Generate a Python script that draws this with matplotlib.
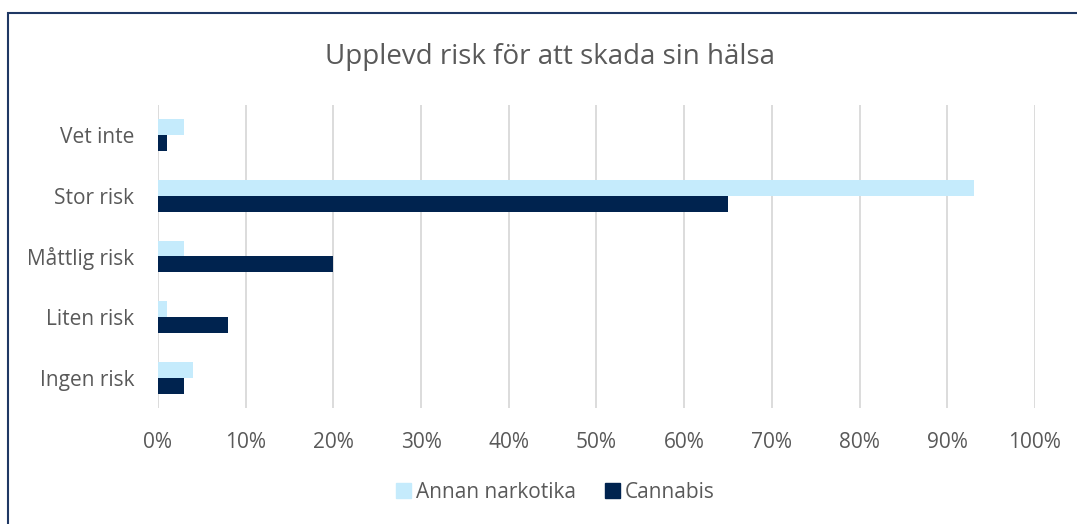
import matplotlib.pyplot as plt
import matplotlib.patches as mpatches
import numpy as np
from matplotlib.ticker import PercentFormatter

plt.rcParams['font.family'] = ['Open Sans', 'DejaVu Sans']

categories = ["Ingen risk", "Liten risk", "Måttlig risk", "Stor risk", "Vet inte"]
annan_narkotika = [4, 1, 3, 93, 3]
cannabis = [3, 8, 20, 65, 1]

light = "#C5EBFC"
dark = "#00234F"
grey = "#595959"

fig = plt.figure(figsize=(10.77, 5.24), dpi=100)
ax = fig.add_axes([0.1467, 0.2214, 0.8143, 0.5782])

y = np.arange(len(categories))
h = 0.264
ax.barh(y + h / 2, annan_narkotika, height=h, color=light, label="Annan narkotika", zorder=3)
ax.barh(y - h / 2, cannabis, height=h, color=dark, label="Cannabis", zorder=3)

ax.set_xlim(0, 100)
ax.set_ylim(-0.5, len(categories) - 0.5)
ax.set_xticks(np.arange(0, 101, 10))
ax.xaxis.set_major_formatter(PercentFormatter(decimals=0))
ax.set_yticks(y)
ax.set_yticklabels(categories)
ax.tick_params(axis="both", length=0, labelsize=15, colors=grey)
ax.tick_params(axis="x", pad=17)
ax.tick_params(axis="y", pad=17)
ax.grid(axis="x", color="#D9D9D9", linewidth=1.3, zorder=0)
for s in ax.spines.values():
    s.set_visible(False)

fig.text(0.511, 0.892, "Upplevd risk för att skada sin hälsa", ha="center", va="center",
         fontsize=20, color=grey)

handles = [mpatches.Patch(color=light, label="Annan narkotika"),
           mpatches.Patch(color=dark, label="Cannabis")]
fig.legend(handles=handles, loc="center", bbox_to_anchor=(0.516, 0.06), ncol=2, frameon=False,
           fontsize=15, labelcolor=grey, handlelength=0.7, handleheight=0.7,
           handletextpad=0.25, columnspacing=1.4)

# outer frame of the chart area
fig.patches.append(mpatches.Rectangle((8 / 1077, -0.05), 1.2, (524 - 13) / 524 + 0.05,
                                      transform=fig.transFigure, fill=False,
                                      edgecolor="#1F3864", linewidth=1.5))

fig.savefig("out.png", dpi=100)
